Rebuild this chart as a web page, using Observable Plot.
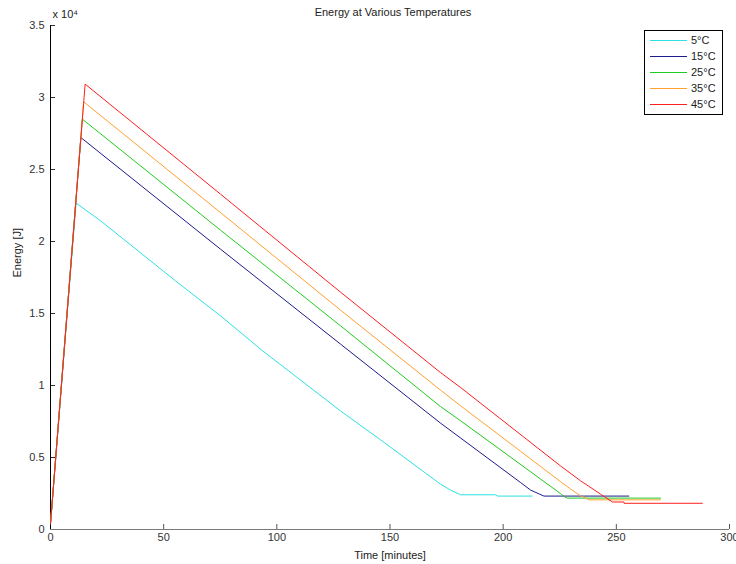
<!DOCTYPE html>
<html>
<head>
<meta charset="utf-8">
<script src="https://cdn.jsdelivr.net/npm/d3@7"></script>
<script src="https://cdn.jsdelivr.net/npm/@observablehq/plot@0.6"></script>
<style>
  html, body { margin: 0; padding: 0; background: #fff; }
  #chart svg { display: block; }
</style>
</head>
<body>
<div id="chart"></div>
<script>
// Energy stored over time for five ambient temperatures (time in minutes, energy in J)
const names = ["5°C", "15°C", "25°C", "35°C", "45°C"];
const colors = ["#2ee0e0", "#1c1c8a", "#1fcc1f", "#ffa030", "#ff1e1e"];

const t5  = [0, 11.3, 22.1, 55.2, 75.1, 93.7, 128.1, 145.8, 172.3, 176.7, 181.2, 196.6, 197.6, 212.8];
const e5  = [400, 22670, 21440, 17270, 14840, 12410, 8240, 6230, 3150, 2740, 2410, 2410, 2320, 2320];

const t15 = [0, 13.4, 75.1, 128.1, 172.3, 207.7, 212.1, 218.0, 255.5];
const e15 = [400, 27220, 19470, 12880, 7390, 3260, 2740, 2320, 2320];

const t25 = [0, 14.05, 75.1, 128.1, 172.3, 181.2, 225.3, 227.1, 228.3, 269.5];
const e25 = [400, 28500, 20790, 14150, 8540, 7550, 2500, 2270, 2180, 2180];

const t35 = [0, 14.65, 75.1, 128.1, 172.3, 181.2, 225.3, 229.8, 234.2, 236.4, 237.9, 269.5];
const e35 = [400, 29700, 22010, 15240, 9680, 8590, 3330, 2810, 2340, 2180, 2060, 2060];

const t45 = [0, 15.3, 75.1, 128.1, 172.3, 181.2, 225.3, 234.2, 243.0, 248.3, 253.3, 253.4, 288.0];
const e45 = [400, 30930, 23290, 16490, 10900, 9860, 4420, 3380, 2460, 1910, 1910, 1820, 1820];

const xTicks = [0, 50, 100, 150, 200, 250, 300];
const yTicks = [0, 5000, 10000, 15000, 20000, 25000, 30000, 35000];

const times = [t5, t15, t25, t35, t45];
const energies = [e5, e15, e25, e35, e45];
const rows = names.flatMap((name, k) =>
  times[k].map((t, i) => ({ name, t, e: energies[k][i] })));

const W = 736, H = 564;
const mL = 50, mR = 7, mT = 25, mB = 35;
const plotW = W - mL - mR, plotH = H - mT - mB;
const font = "'Liberation Sans', Arial, Helvetica, sans-serif";

const chart = Plot.plot({
  width: W,
  height: H,
  marginLeft: mL,
  marginRight: mR,
  marginTop: mT,
  marginBottom: mB,
  style: { fontFamily: font, fontSize: "11px", background: "#fff", color: "#222" },
  x: { domain: [0, 300] },
  y: { domain: [0, 35000] },
  color: { domain: names, range: colors },
  marks: [
    Plot.axisX(xTicks, { tickSize: 0, tickPadding: 4, label: null, fontSize: 11, fill: "#333" }),
    Plot.axisY(yTicks, { tickSize: 0, tickPadding: 6, label: null, fontSize: 11, fill: "#333",
      tickFormat: d => String(d / 1e4) }),
    // inward-pointing ticks
    Plot.tickX(xTicks, { x: d => d, insetTop: plotH - 5, stroke: "#555" }),
    Plot.tickY(yTicks, { y: d => d, insetRight: plotW - 5, stroke: "#333" }),
    Plot.ruleY([0], { stroke: "#7a7a7a" }),
    Plot.ruleX([0], { stroke: "#000" }),
    Plot.line(rows, { x: "t", y: "e", z: "name", stroke: "name", strokeWidth: 1, curve: "linear" }),
    Plot.text(["x 10⁴"], { frameAnchor: "top-left", lineAnchor: "bottom", textAnchor: "start",
      dx: 2, dy: -8, fontSize: 11, fill: "#222" }),
    Plot.text(["Energy at Various Temperatures"], { frameAnchor: "top", lineAnchor: "middle",
      dx: 3, dy: -13, fontSize: 11, fill: "#222" }),
    Plot.text(["Time [minutes]"], { frameAnchor: "bottom", lineAnchor: "middle",
      dy: 26, fontSize: 11, fill: "#222" }),
    Plot.text(["Energy [J]"], { frameAnchor: "left", rotate: -90, lineAnchor: "middle",
      dx: -33, fontSize: 11, fill: "#222" })
  ]
});

// legend box in the upper-right corner of the axes
const svg = d3.select(chart);
const lg = svg.append("g").attr("font-family", font).attr("font-size", 11)
  .attr("text-anchor", "start");
lg.append("rect")
  .attr("x", 644.5).attr("y", 30.5).attr("width", 78).attr("height", 84)
  .attr("fill", "#fff").attr("stroke", "#000");
names.forEach((name, i) => {
  const y = 40.5 + i * 16;
  lg.append("line").attr("x1", 650).attr("x2", 687).attr("y1", y).attr("y2", y)
    .attr("stroke", colors[i]).attr("stroke-width", 1);
  lg.append("text").attr("x", 691).attr("y", y).attr("dy", "0.35em")
    .attr("text-anchor", "start").attr("fill", "#222").text(name);
});

document.getElementById("chart").appendChild(chart);
</script>
</body>
</html>
